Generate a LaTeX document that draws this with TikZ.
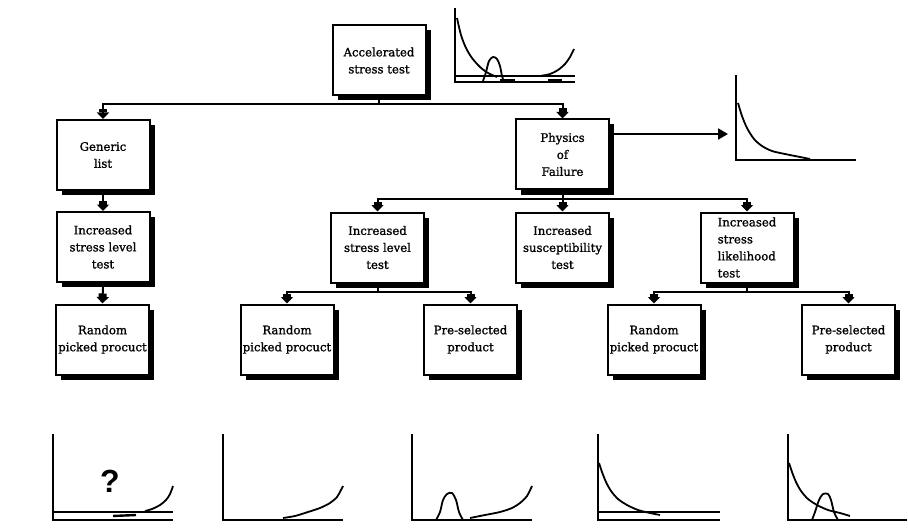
\documentclass[tikz,border=0pt]{standalone}
\usepackage{fontspec}
\usetikzlibrary{arrows.meta,shadows}
\newfontfamily\boxfont[FakeBold=1.2]{DejaVu Serif}
\newfontfamily\markfont{Liberation Sans}
\begin{document}
\begin{tikzpicture}[x=1pt,y=-1pt,
  box/.style={draw,line width=2pt,fill=white,minimum width=93pt,minimum height=70pt,
    inner sep=0pt,align=center,font=\boxfont\fontsize{11.7}{17}\selectfont,
    drop shadow={shadow xshift=5pt,shadow yshift=-5pt,fill=black,opacity=1}},
  wire/.style={line width=2pt},
  arr/.style={wire,-{Square[width=8pt,length=3.5pt,sep=0pt]Triangle[width=12pt,length=6.5pt]}},
  axis/.style={line width=2pt},
  curve/.style={line width=1.8pt,line join=round}]
\useasboundingbox (0,0) rectangle (908,532);

% tree of tests
\node[box] (acc)  at (379,60.5)   {Accelerated\\stress test};
\node[box] (gen)  at (103,155)    {Generic\\list};
\node[box] (isl1) at (103,247)    {Increased\\stress level\\test};
\node[box] (rnd1) at (102.5,339.5){Random\\picked procuct};
\node[box] (pof)  at (562.5,154.5){Physics\\of\\Failure};
\node[box] (isl2) at (377.5,247.5){Increased\\stress level\\test};
\node[box] (sus)  at (562.5,247.5){Increased\\susceptibility\\test};
\node[box,align=left] (lik) at (747,247.5){Increased\\stress\\likelihood\\test};
\node[box] (rnd2) at (287,339.5)  {Random\\picked procuct};
\node[box] (pre2) at (470.5,339.5){Pre-selected\\product};
\node[box] (rnd3) at (654,339.5)  {Random\\picked procuct};
\node[box] (pre3) at (848.5,339.5){Pre-selected\\product};

% bus junctions
\coordinate (bus0) at (379,104);
\coordinate (bus1) at (562.5,199);
\coordinate (bus2) at (377.5,292);
\coordinate (bus3) at (747,292);
\coordinate (pofout) at (728,134);

\draw[wire] (acc.south) -- (bus0);
\draw[arr] (bus0) -| (gen.north);
\draw[arr] (bus0) -| (pof.north);
\draw[arr] (gen.south) -- (isl1.north);
\draw[arr] (isl1.south) -- (rnd1.north);

\draw[wire] (pof.south) -- (bus1);
\draw[arr] (bus1) -| (isl2.north);
\draw[arr] (bus1) -- (sus.north);
\draw[arr] (bus1) -| (lik.north);

\draw[wire] (isl2.south) -- (bus2);
\draw[arr] (bus2) -| (rnd2.north);
\draw[arr] (bus2) -| (pre2.north);

\draw[wire] (lik.south) -- (bus3);
\draw[arr] (bus3) -| (rnd3.north);
\draw[arr] (bus3) -| (pre3.north);

\draw[wire,-{Triangle[width=11pt,length=10pt]}] ([yshift=20.5pt]pof.east) -- (pofout);

% bathtub curve beside the top box
\draw[axis] (455,8) -- (455,82) -- (575,82);
\draw[axis] (455,76) -- (575,76);
\draw[curve] plot[smooth] coordinates {(457,18) (461,35) (466,48) (472,58) (480,67) (488,73) (497,77)};
\draw[curve] plot[smooth] coordinates {(483,81) (486,72) (489,61) (493,57) (497,59) (500,66) (502,76) (504,82)};
\draw[curve] plot[smooth] coordinates {(540,76) (550,74) (558,70) (565,64) (570,57) (574,49)};
\draw[line width=2.6pt] (500,80) -- (515,80);
\draw[line width=2.6pt] (548,80) -- (562,80);

% early-failure curve for physics of failure
\draw[axis] (736,75) -- (736,160) -- (856,160);
\draw[curve] plot[smooth] coordinates {(738,103) (742,116) (747,128) (754,139) (762,146) (772,151) (785,154) (800,157) (810,159)};

% result curves, bottom row
\draw[axis] (53,434) -- (53,520) -- (173,520);
\draw[axis] (53,512) -- (173,512);
\node[font=\markfont\bfseries\fontsize{32}{32}\selectfont] (qm) at (110,481) {?};
\draw[line width=2.4pt] (113,516) -- (136,515);
\draw[curve] plot[smooth] coordinates {(145,511) (152,509) (160,505) (166,500) (170,494) (173,486)};

\draw[axis] (223,434) -- (223,520) -- (343,520);
\draw[curve] plot[smooth] coordinates {(283,518) (295,516) (308,512) (320,508) (330,503) (337,497) (341,490) (343,486)};

\draw[axis] (412,434) -- (412,520) -- (532,520);
\draw[curve] plot[smooth] coordinates {(436,520) (440,512) (443,500) (447,494) (452,493) (456,500) (459,512) (463,520)};
\draw[curve] plot[smooth] coordinates {(470,518) (485,515) (500,512) (512,508) (520,503) (527,496) (532,486)};

\draw[axis] (598,434) -- (598,520) -- (720,520);
\draw[axis] (598,512) -- (720,512);
\draw[curve] plot[smooth] coordinates {(599,463) (602,472) (606,482) (611,491) (618,499) (627,505) (638,510) (650,513) (660,515)};

\draw[axis] (788,434) -- (788,520) -- (907,520);
\draw[curve] plot[smooth] coordinates {(789,463) (792,472) (796,482) (801,491) (808,499) (817,505) (828,510) (840,513) (850,516)};
\draw[curve] plot[smooth] coordinates {(812,520) (815,512) (819,500) (823,494) (828,494) (831,500) (834,512) (838,520)};
\end{tikzpicture}
\end{document}
